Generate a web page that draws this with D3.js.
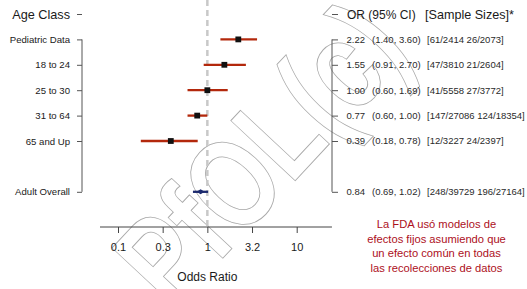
<!DOCTYPE html>
<html>
<head>
<meta charset="utf-8">
<script src="https://cdn.jsdelivr.net/npm/d3@7"></script>
<style>
  html, body { margin: 0; padding: 0; background: #fff; }
  svg { display: block; }
  text { font-family: "Liberation Sans", Arial, sans-serif; }
</style>
</head>
<body>
<div id="chart"></div>
<script>
(function() {
    'use strict';

    // data
    var groups = ["Pediatric Data", "18 to 24", "25 to 30", "31 to 64", "65 and Up", "Adult Overall"];
    var rowIndex = [1, 2, 3, 4, 5, 7];
    var oddsRatio = [2.22, 1.55, 1.00, 0.77, 0.39, 0.84];
    var ciLow = [1.40, 0.91, 0.60, 0.60, 0.18, 0.69];
    var ciHigh = [3.60, 2.70, 1.69, 1.00, 0.78, 1.02];
    var orText = ["2.22", "1.55", "1.00", "0.77", "0.39", "0.84"];
    var ciText = ["(1.40, 3.60)", "(0.91, 2.70)", "(0.60, 1.69)", "(0.60, 1.00)", "(0.18, 0.78)", "(0.69, 1.02)"];
    var sampleSizes = ["[61/2414 26/2073]", "[47/3810 21/2604]", "[41/5558 27/3772]",
                       "[147/27086 124/18354]", "[12/3227 24/2397]", "[248/39729 196/27164]"];
    var isOverall = [false, false, false, false, false, true];
    var xTicks = [0.1, 0.3162, 1, 3.162, 10];
    var xTickLabels = ["0.1", "0.3", "1", "3.2", "10"];
    var note = ["La FDA usó modelos de", "efectos fijos asumiendo que",
                "un efecto común en todas", "las recolecciones de datos"];

    var width = 527, height = 289;
    var red = "#b3280c", navy = "#1c2a6e";

    var svg = d3.select("#chart").append("svg")
        .attr("width", width).attr("height", height);

    var x = d3.scaleLog().domain([0.1, 10]).range([118, 296.7]);
    var y = d3.scaleLinear().domain([0, 7]).range([14, 191.8]);
    var xLineDomain = [0.0629, 24.8];

    // watermark
    svg.append("text")
        .attr("transform", "translate(259,152) rotate(-47) scale(0.98,1.28)")
        .attr("text-anchor", "middle")
        .attr("dy", "0.36em")
        .attr("font-size", 100)
        .attr("font-weight", "bold")
        .attr("fill", "none")
        .attr("stroke", "#a8a8a8")
        .attr("stroke-width", 0.7)
        .text("PfOL(c)");

    // reference line at OR = 1
    svg.append("line")
        .attr("x1", x(1)).attr("x2", x(1))
        .attr("y1", 0).attr("y2", 227)
        .attr("stroke", "#c8c8c8")
        .attr("stroke-width", 2.5)
        .attr("stroke-dasharray", "6,4");

    // left axis: group labels
    var leftAxis = d3.axisLeft(y)
        .tickValues([0].concat(rowIndex))
        .tickSize(5)
        .tickPadding(7)
        .tickFormat(function(d) { return d === 0 ? "Age Class" : groups[rowIndex.indexOf(d)]; });
    var gl = svg.append("g").attr("transform", "translate(82,0)").call(leftAxis);
    gl.select(".domain").remove();
    gl.selectAll(".tick line").attr("stroke", "#555");
    gl.selectAll(".tick text")
        .attr("fill", "#1a1a1a")
        .attr("font-family", "Liberation Sans, Arial, sans-serif")
        .attr("font-size", function(d) { return d === 0 ? 12.7 : 9.6; });
    gl.append("line")
        .attr("y1", y(1)).attr("y2", y(7))
        .attr("stroke", "#555");

    // right axis: OR, CI, sample sizes
    var rightAxis = d3.axisRight(y)
        .tickValues([0].concat(rowIndex))
        .tickSize(6)
        .tickFormat("");
    var gr = svg.append("g").attr("transform", "translate(332,0)").call(rightAxis);
    gr.select(".domain").remove();
    gr.selectAll(".tick line").attr("stroke", "#555");
    gr.append("line")
        .attr("y1", y(1)).attr("y2", y(7))
        .attr("stroke", "#555");

    svg.append("text").attr("x", 347).attr("y", y(0) + 5)
        .attr("font-size", 12).attr("fill", "#1a1a1a").text("OR (95% CI)");
    svg.append("text").attr("x", 425).attr("y", y(0) + 5)
        .attr("font-size", 12.6).attr("fill", "#1a1a1a").text("[Sample Sizes]*");

    var cols = [{x: 346.5, txt: orText}, {x: 372, txt: ciText}, {x: 427, txt: sampleSizes}];
    cols.forEach(function(c) {
        svg.selectAll(null).data(groups).enter().append("text")
            .attr("x", c.x)
            .attr("y", function(d, i) { return y(rowIndex[i]) + 3.4; })
            .attr("font-size", 9.5)
            .attr("fill", "#2a2a2a")
            .text(function(d, i) { return c.txt[i]; });
    });

    // bottom axis
    var bottomAxis = d3.axisBottom(x)
        .tickValues(xTicks)
        .tickSize(6)
        .tickPadding(10)
        .tickFormat(function(d, i) { return xTickLabels[i]; });
    var gb = svg.append("g").attr("transform", "translate(0,227)").call(bottomAxis);
    gb.select(".domain").remove();
    gb.selectAll(".tick line").attr("stroke", "#444");
    gb.selectAll(".tick text")
        .attr("font-size", 11)
        .attr("font-family", "Liberation Sans, Arial, sans-serif")
        .attr("fill", "#1a1a1a");
    gb.append("line")
        .attr("x1", x(xLineDomain[0])).attr("x2", x(xLineDomain[1]))
        .attr("stroke", "#444");

    svg.append("text")
        .attr("x", x(1)).attr("y", 281)
        .attr("text-anchor", "middle")
        .attr("font-size", 12)
        .attr("fill", "#1a1a1a")
        .text("Odds Ratio");

    // confidence intervals
    svg.selectAll(".ci").data(groups).enter().append("line")
        .attr("class", "ci")
        .attr("x1", function(d, i) { return x(ciLow[i]); })
        .attr("x2", function(d, i) { return x(ciHigh[i]); })
        .attr("y1", function(d, i) { return y(rowIndex[i]); })
        .attr("y2", function(d, i) { return y(rowIndex[i]); })
        .attr("stroke", function(d, i) { return isOverall[i] ? navy : red; })
        .attr("stroke-width", 2.3);

    // point estimates
    var sq = 5.8;
    svg.selectAll(".pt").data(groups.filter(function(d, i) { return !isOverall[i]; })).enter().append("rect")
        .attr("class", "pt")
        .attr("x", function(d, i) { return x(oddsRatio[i]) - sq / 2; })
        .attr("y", function(d, i) { return y(rowIndex[i]) - sq / 2; })
        .attr("width", sq).attr("height", sq)
        .attr("fill", "#111");

    var oi = isOverall.indexOf(true);
    var ox = x(oddsRatio[oi]), oy = y(rowIndex[oi]);
    svg.append("path")
        .attr("d", "M" + (ox - 4) + "," + oy + "L" + ox + "," + (oy - 2.5) + "L" + (ox + 4) + "," + oy + "L" + ox + "," + (oy + 2.5) + "Z")
        .attr("fill", navy);

    // note
    svg.append("g").selectAll("text").data(note).enter().append("text")
        .attr("x", 436.5)
        .attr("y", function(d, i) { return 228.3 + i * 14.5; })
        .attr("text-anchor", "middle")
        .attr("font-family", "DejaVu Sans, sans-serif")
        .attr("font-size", 11.2)
        .attr("fill", "#ad0f1c")
        .text(function(d) { return d; });
})();
</script>
</body>
</html>
